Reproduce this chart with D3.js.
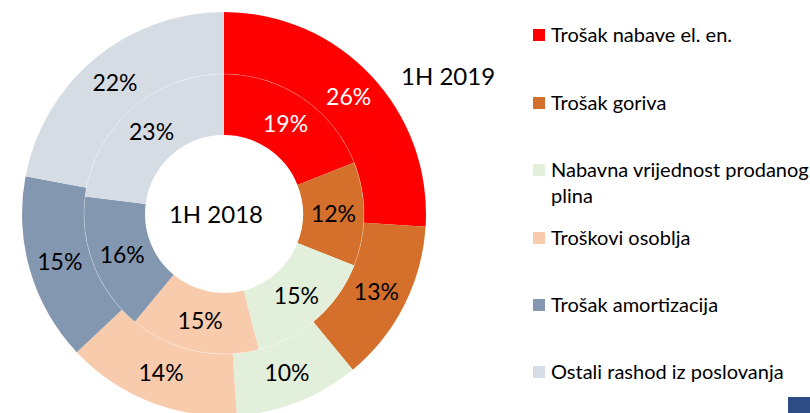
<!DOCTYPE html>
<html>
<head>
<meta charset="utf-8">
<script src="https://cdn.jsdelivr.net/npm/d3@7"></script>
<style>
  html, body { margin: 0; padding: 0; background: #fff; }
  svg { display: block; font-family: "Lato", "Open Sans", sans-serif; }
</style>
</head>
<body>
<div id="chart"></div>
<script>
// categories and colours (same order in both rings)
var categories = [
  "Trošak nabave el. en.",
  "Trošak goriva",
  "Nabavna vrijednost prodanog plina",
  "Troškovi osoblja",
  "Trošak amortizacija",
  "Ostali rashod iz poslovanja"
];
var colors = ["#ff0000", "#d4702c", "#e2efda", "#f8cbad", "#8497b0", "#d6dce4"];
var labelColors = ["#fff", "#000", "#000", "#000", "#000", "#000"];

// shares in percent
var values2018 = [19, 12, 15, 15, 16, 23];   // inner ring
var values2019 = [26, 13, 10, 14, 15, 22];   // outer ring

var width = 810, height = 413;
var cx = 224, cy = 214;

var svg = d3.select("#chart")
  .append("svg")
  .attr("width", width)
  .attr("height", height);

var pie = d3.pie().sort(null).value(function (d) { return d; });

// draw one ring with its labels
function drawRing(values, r0, r1) {
  var arc = d3.arc().innerRadius(r0).outerRadius(r1);
  var g = svg.append("g").attr("transform", "translate(" + cx + "," + cy + ")");
  var arcs = pie(values);
  g.selectAll("path")
    .data(arcs)
    .enter()
    .append("path")
    .attr("d", arc)
    .attr("fill", function (d, i) { return colors[i]; });
  g.selectAll("text")
    .data(arcs)
    .enter()
    .append("text")
    .attr("transform", function (d) { return "translate(" + arc.centroid(d) + ")"; })
    .attr("text-anchor", "middle")
    .attr("dy", "0.36em")
    .style("font-size", "23px")
    .style("fill", function (d, i) { return labelColors[i]; })
    .text(function (d) { return d.data + "%"; });
}

drawRing(values2019, 140, 202);
drawRing(values2018, 79, 140);

// thin divider between the two rings
svg.append("circle")
  .attr("cx", cx).attr("cy", cy).attr("r", 140)
  .attr("fill", "none")
  .attr("stroke", "#fff")
  .attr("stroke-opacity", 0.5)
  .attr("stroke-width", 0.5);

// ring titles
svg.append("text")
  .attr("x", cx - 8).attr("y", cy)
  .attr("dy", "0.36em")
  .attr("text-anchor", "middle")
  .style("font-size", "24px")
  .text("1H 2018");

svg.append("text")
  .attr("x", 401).attr("y", 76)
  .attr("dy", "0.36em")
  .style("font-size", "24px")
  .text("1H 2019");

// legend
var legendY = [35, 103, 170, 238, 305, 372];
var legend = svg.append("g");
categories.forEach(function (c, i) {
  var row = legend.append("g").attr("transform", "translate(533," + legendY[i] + ")");
  row.append("rect")
    .attr("x", 0).attr("y", -6)
    .attr("width", 12).attr("height", 12)
    .attr("fill", colors[i]);
  var t = row.append("text")
    .attr("x", 18)
    .attr("dy", "0.36em")
    .style("font-size", "20px");
  if (i === 2) {
    t.append("tspan").attr("x", 18).text("Nabavna vrijednost prodanog");
    t.append("tspan").attr("x", 18).attr("dy", "26").text("plina");
  } else {
    t.text(c);
  }
});

// corner marker
svg.append("rect")
  .attr("x", 788).attr("y", 397)
  .attr("width", 22).attr("height", 16)
  .attr("fill", "#2f4b85");
</script>
</body>
</html>
